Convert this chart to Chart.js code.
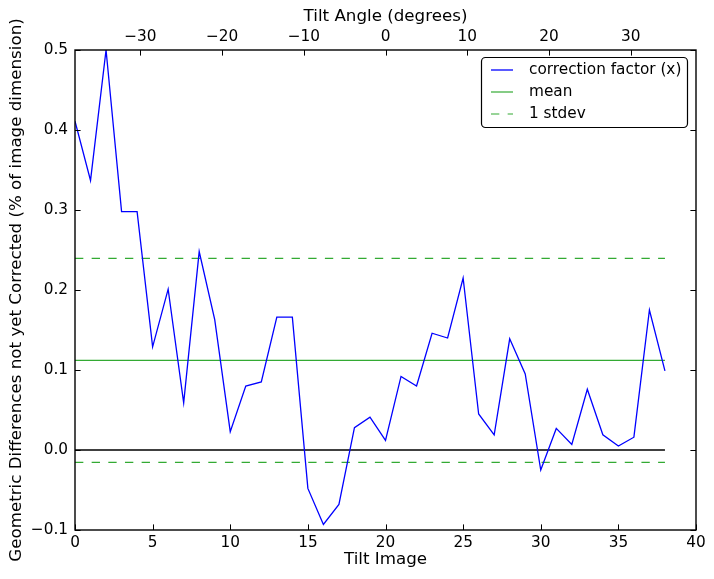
<!DOCTYPE html>
<html>
<head>
<meta charset="utf-8">
<script src="https://cdn.jsdelivr.net/npm/chart.js@4.4.1/dist/chart.umd.min.js"></script>
<style>
  html, body { margin: 0; padding: 0; background: #fff; }
  #wrap { width: 714px; height: 579px; }
</style>
</head>
<body>
<div id="wrap"><canvas id="chart" width="714" height="579"></canvas></div>
<script>
// tilt image index and the measured correction factor (x)
const tiltImages = [0, 1, 2, 3, 4, 5, 6, 7, 8, 9, 10, 11, 12, 13, 14, 15, 16, 17, 18, 19,
                    20, 21, 22, 23, 24, 25, 26, 27, 28, 29, 30, 31, 32, 33, 34, 35, 36, 37, 38];
const correction = [0.411, 0.337, 0.500, 0.298, 0.298, 0.129, 0.201, 0.059, 0.248, 0.163,
                    0.023, 0.080, 0.085, 0.166, 0.166, -0.048, -0.093, -0.068, 0.028, 0.041,
                    0.012, 0.092, 0.080, 0.146, 0.140, 0.215, 0.045, 0.019, 0.139, 0.095,
                    -0.025, 0.027, 0.007, 0.076, 0.019, 0.005, 0.016, 0.175, 0.099];
const meanValue = 0.112;
const stdevValue = 0.1275;

// axis ticks
const imageTicks = [0, 5, 10, 15, 20, 25, 30, 35, 40];
const angleRange = [-38, 38];
const yRange = [-0.1, 0.5];

const FONT = "'DejaVu Sans', sans-serif";
const GREEN = '#33aa33';
const minus = s => String(s).replace('-', '\u2212');

const xy = vals => tiltImages.map((x, i) => ({ x: x, y: vals[i] }));
const flat = v => tiltImages.map(x => ({ x: x, y: v }));

// inward ticks on all four sides plus the frame
const frameTicks = {
  id: 'frameTicks',
  afterDraw(chart) {
    const { ctx, chartArea: a, scales } = chart;
    const len = 5.6;
    ctx.save();
    ctx.strokeStyle = '#000';
    ctx.lineWidth = 1;
    ctx.beginPath();
    scales.x.ticks.forEach(t => {
      const px = Math.round(scales.x.getPixelForValue(t.value)) + 0.5;
      ctx.moveTo(px, a.bottom); ctx.lineTo(px, a.bottom - len);
    });
    scales.x2.ticks.forEach(t => {
      const px = Math.round(scales.x2.getPixelForValue(t.value)) + 0.5;
      ctx.moveTo(px, a.top); ctx.lineTo(px, a.top + len);
    });
    scales.y.ticks.forEach(t => {
      const py = Math.round(scales.y.getPixelForValue(t.value)) + 0.5;
      ctx.moveTo(a.left, py); ctx.lineTo(a.left + len, py);
      ctx.moveTo(a.right, py); ctx.lineTo(a.right - len, py);
    });
    ctx.stroke();
    ctx.lineWidth = 1.4;
    ctx.strokeRect(a.left, a.top, a.right - a.left, a.bottom - a.top);
    ctx.restore();
  }
};

// matplotlib-style legend box in the upper right
const boxLegend = {
  id: 'boxLegend',
  afterDraw(chart) {
    const { ctx } = chart;
    const items = chart.data.datasets.filter(d => d.legendText);
    const x = 481, y = 57, w = 206, h = 70;
    ctx.save();
    ctx.fillStyle = '#fff';
    ctx.strokeStyle = '#000';
    ctx.lineWidth = 1.2;
    ctx.beginPath();
    ctx.roundRect(x + 0.5, y + 0.5, w, h, 4);
    ctx.fill();
    ctx.stroke();
    ctx.font = '15.3px ' + FONT;
    ctx.textBaseline = 'middle';
    items.forEach((d, i) => {
      const ry = y + 13 + i * 22;
      ctx.strokeStyle = d.borderColor;
      ctx.lineWidth = d.borderWidth;
      ctx.setLineDash(d.borderDash || []);
      ctx.beginPath();
      ctx.moveTo(491, ry); ctx.lineTo(513, ry);
      ctx.stroke();
      ctx.setLineDash([]);
      ctx.fillStyle = '#000';
      ctx.fillText(d.legendText, 529, ry);
    });
    ctx.restore();
  }
};

const lineDefaults = { pointRadius: 0, fill: false, tension: 0, borderWidth: 1.3 };

new Chart(document.getElementById('chart'), {
  type: 'line',
  data: {
    datasets: [
      { ...lineDefaults, label: 'correction factor (x)', legendText: 'correction factor (x)',
        data: xy(correction), borderColor: '#0000ff', order: 1 },
      { ...lineDefaults, label: 'mean', legendText: 'mean',
        data: flat(meanValue), borderColor: GREEN, borderWidth: 1.2, order: 2 },
      { ...lineDefaults, label: '1 stdev', legendText: '1 stdev',
        data: flat(meanValue + stdevValue), borderColor: GREEN, borderWidth: 1.2,
        borderDash: [8.33, 8.33], order: 3 },
      { ...lineDefaults, label: 'lower stdev',
        data: flat(meanValue - stdevValue), borderColor: GREEN, borderWidth: 1.2,
        borderDash: [8.33, 8.33], order: 4 },
      { ...lineDefaults, label: 'zero',
        data: flat(0), borderColor: '#000000', order: 5 }
    ]
  },
  options: {
    responsive: false,
    animation: false,
    layout: { padding: { left: 0, right: 18, top: 0, bottom: 0 } },
    plugins: { legend: { display: false }, tooltip: { enabled: false } },
    scales: {
      x: {
        type: 'linear', position: 'bottom', min: 0, max: 40,
        afterBuildTicks: s => { s.ticks = imageTicks.map(v => ({ value: v })); },
        afterFit: s => { s.height = 49; },
        grid: { display: false, drawTicks: false },
        border: { display: false },
        ticks: { color: '#000', font: { family: FONT, size: 15.3 }, padding: 4, maxRotation: 0 },
        title: { display: true, text: 'Tilt Image', color: '#000',
                 font: { family: FONT, size: 16.7 }, padding: { top: 0, bottom: 9 } }
      },
      x2: {
        type: 'linear', axis: 'x', position: 'top', min: angleRange[0], max: angleRange[1],
        afterFit: s => { s.height = 50; },
        grid: { display: false, drawTicks: false },
        border: { display: false },
        ticks: { stepSize: 10, includeBounds: false, color: '#000', padding: 4, maxRotation: 0,
                 font: { family: FONT, size: 15.3 }, callback: v => minus(v) },
        title: { display: true, text: 'Tilt Angle (degrees)', color: '#000',
                 font: { family: FONT, size: 16.7 }, padding: { top: 7, bottom: 0 } }
      },
      y: {
        type: 'linear', position: 'left', min: yRange[0], max: yRange[1],
        afterFit: s => { s.width = 75; },
        grid: { display: false, drawTicks: false },
        border: { display: false },
        ticks: { stepSize: 0.1, color: '#000', padding: 7,
                 font: { family: FONT, size: 15.3 },
                 callback: v => minus((Math.abs(v) < 1e-9 ? 0 : v).toFixed(1)) },
        title: { display: true, text: 'Geometric Differences not yet Corrected (% of image dimension)',
                 color: '#000', font: { family: FONT, size: 16.7 }, padding: { top: 7, bottom: 0 } }
      }
    }
  },
  plugins: [frameTicks, boxLegend]
});
</script>
</body>
</html>
